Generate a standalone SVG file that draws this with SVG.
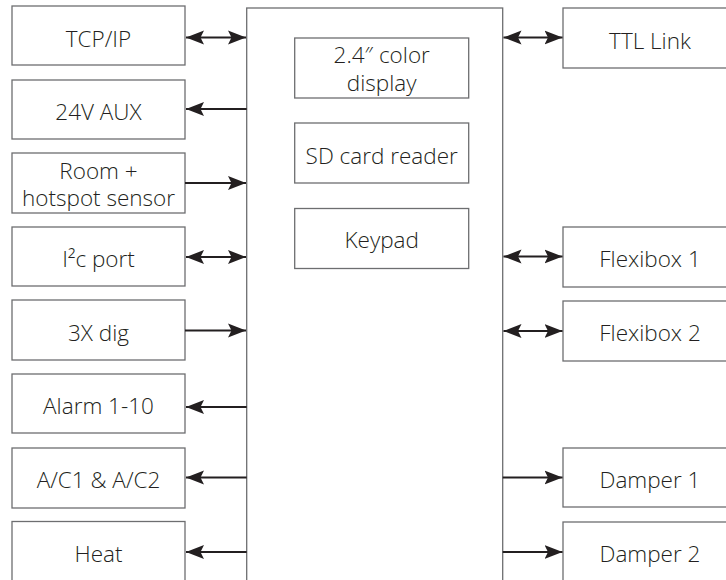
<svg xmlns="http://www.w3.org/2000/svg" width="726" height="580" viewBox="0 0 726 580">
<style>
.box{fill:#fff;stroke:#6d6e70;stroke-width:1.3}
.t{font-family:"Open Sans","Liberation Sans",sans-serif;font-weight:300;font-size:22.5px;fill:#231f20;text-anchor:middle}
.c{stroke:#231f20;stroke-width:2.2;fill:none}
</style>
<defs>
<marker id="ah" markerUnits="userSpaceOnUse" viewBox="-18 -8 19 16" refX="0" refY="0" markerWidth="19" markerHeight="16" orient="auto-start-reverse">
<path d="M0,0 L-18,-7 L-14.5,0 L-18,7 Z" fill="#231f20"/>
</marker>
</defs>
<rect width="726" height="580" fill="#fff"/>
<g id="main">
<rect class="box" x="246.7" y="8" width="256" height="600"/>
</g>
<g id="display"><rect class="box" x="294.7" y="38" width="174" height="60"/><text class="t" x="381.7" y="63">2.4″ color</text><text class="t" x="381.7" y="91">display</text></g>
<g id="sdcard"><rect class="box" x="294.7" y="123" width="174" height="60"/><text class="t" x="381.7" y="164">SD card reader</text></g>
<g id="keypad"><rect class="box" x="294.7" y="208.5" width="174" height="60"/><text class="t" x="381.7" y="248">Keypad</text></g>
<g id="tcpip"><rect class="box" x="12" y="6" width="173" height="59"/><text class="t" x="98.5" y="47">TCP/IP</text></g>
<g id="aux24v"><rect class="box" x="12" y="80" width="173" height="59"/><text class="t" x="98.5" y="120">24V AUX</text></g>
<g id="room"><rect class="box" x="12" y="153" width="173" height="60"/><text class="t" x="98.5" y="179">Room +</text><text class="t" x="98.5" y="205.5">hotspot sensor</text></g>
<g id="i2c"><rect class="box" x="12" y="227" width="173" height="59"/><text class="t" x="98.5" y="267">I²c port</text></g>
<g id="dig3x"><rect class="box" x="12" y="300" width="173" height="60"/><text class="t" x="98.5" y="341">3X dig</text></g>
<g id="alarm"><rect class="box" x="12" y="374" width="173" height="59"/><text class="t" x="98.5" y="414">Alarm 1-10</text></g>
<g id="ac"><rect class="box" x="12" y="448" width="173" height="60"/><text class="t" x="98.5" y="488">A/C1 &amp; A/C2</text></g>
<g id="heat"><rect class="box" x="12" y="521.5" width="173" height="80"/><text class="t" x="98.5" y="562">Heat</text></g>
<g id="ttl"><rect class="box" x="563" y="8" width="175" height="60"/><text class="t" x="650" y="49">TTL Link</text></g>
<g id="flexibox1"><rect class="box" x="563" y="227" width="175" height="60"/><text class="t" x="650" y="267">Flexibox 1</text></g>
<g id="flexibox2"><rect class="box" x="563" y="301" width="175" height="60"/><text class="t" x="650" y="341">Flexibox 2</text></g>
<g id="damper1"><rect class="box" x="563" y="448" width="175" height="59"/><text class="t" x="650" y="488">Damper 1</text></g>
<g id="damper2"><rect class="box" x="563" y="522" width="175" height="80"/><text class="t" x="650" y="562">Damper 2</text></g>
<g id="connectors">
<line class="c" x1="186" y1="37.5" x2="246" y2="37.5" marker-start="url(#ah)" marker-end="url(#ah)"/>
<line class="c" x1="186" y1="109" x2="246.7" y2="109" marker-start="url(#ah)"/>
<line class="c" x1="185" y1="183" x2="246" y2="183" marker-end="url(#ah)"/>
<line class="c" x1="186" y1="257" x2="246" y2="257" marker-start="url(#ah)" marker-end="url(#ah)"/>
<line class="c" x1="185" y1="330.5" x2="246" y2="330.5" marker-end="url(#ah)"/>
<line class="c" x1="186" y1="407" x2="246.7" y2="407" marker-start="url(#ah)"/>
<line class="c" x1="186" y1="477.5" x2="246.7" y2="477.5" marker-start="url(#ah)"/>
<line class="c" x1="186" y1="552" x2="246.7" y2="552" marker-start="url(#ah)"/>
<line class="c" x1="503.5" y1="37.5" x2="562.5" y2="37.5" marker-start="url(#ah)" marker-end="url(#ah)"/>
<line class="c" x1="503.5" y1="256.5" x2="562.5" y2="256.5" marker-start="url(#ah)" marker-end="url(#ah)"/>
<line class="c" x1="503.5" y1="331" x2="562.5" y2="331" marker-start="url(#ah)" marker-end="url(#ah)"/>
<line class="c" x1="502.7" y1="477.5" x2="562.5" y2="477.5" marker-end="url(#ah)"/>
<line class="c" x1="502.7" y1="552" x2="562.5" y2="552" marker-end="url(#ah)"/>
</g>
</svg>
